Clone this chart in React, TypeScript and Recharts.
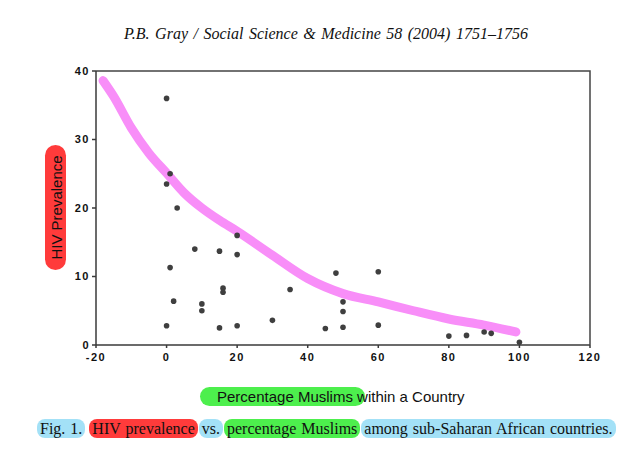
import React from 'react';
import {
  ComposedChart,
  Scatter,
  Line,
  XAxis,
  YAxis,
  Label,
} from 'recharts';

// % Muslims per country (x) and HIV prevalence (y)
const muslimPct = [
  0, 1, 0, 3, 20, 8, 15, 20, 1, 48, 16, 16, 35, 2, 10, 10, 30, 0, 15, 20, 45,
  60, 50, 50, 50, 60, 80, 85, 90, 92, 100,
];
const hivPct = [
  36, 25, 23.5, 20, 16, 14, 13.7, 13.2, 11.3, 10.5, 8.3, 7.7, 8.1, 6.4, 6, 5,
  3.6, 2.8, 2.5, 2.8, 2.4, 10.7, 6.3, 4.9, 2.6, 2.9, 1.3, 1.4, 1.9, 1.7, 0.4,
];

// hand-drawn pink trend curve
const trendX = [-18, -15, -10, -5, 0, 5, 10, 15, 20, 30, 40, 50, 60, 70, 80, 90, 99];
const trendY = [38.6, 36.3, 31.7, 28, 25.1, 22.2, 20, 18.2, 16.6, 13.1, 9.7, 7.5, 6.3, 5, 3.8, 2.9, 1.9];

const xTicks = [-20, 0, 20, 40, 60, 80, 100, 120];
const yTicks = [0, 10, 20, 30, 40];

const points = muslimPct.map((x, i) => ({ x, y: hivPct[i] }));
const trend = trendX.map((x, i) => ({ x, y: trendY[i] }));

const W = 638;
const H = 455;
const margin = { top: 71, right: 48, left: 56, bottom: 80 };
const Y_AXIS_W = 40;
const X_AXIS_H = 30;

const sans = '"Liberation Sans", Arial, Helvetica, sans-serif';
const serif = '"Liberation Serif", "Times New Roman", serif';
const axisColor = '#3a3a3a';
const tickStyle = {
  fill: '#111',
  fontFamily: sans,
  fontSize: 11,
  fontWeight: 600,
  letterSpacing: 1.5,
};

const RED = '#ff3b3b';
const GREEN = '#4def4d';
const BLUE = '#a3e1f7';

// x title + top/right edges of the plot frame
const XTitle = () => {
  const left = margin.left + Y_AXIS_W;
  const right = W - margin.right;
  const top = margin.top;
  const bottom = H - margin.bottom - X_AXIS_H;
  return (
    <g>
      <polyline
        points={`${left},${top} ${right},${top} ${right},${bottom}`}
        fill="none"
        stroke="#444"
        strokeWidth={1.5}
      />
      <rect x={200} y={387} width={165} height={19} rx={9.5} fill={GREEN} />
      <text x={217} y={402} fontFamily={sans} fontSize={15} fill="#111">
        Percentage Muslims within a Country
      </text>
    </g>
  );
};

const YTitle = () => (
  <g>
    <rect x={45} y={145} width={21} height={125} rx={10.5} fill={RED} />
    <text
      x={56}
      y={207.5}
      transform="rotate(-90 56 207.5)"
      textAnchor="middle"
      dominantBaseline="central"
      fontFamily={sans}
      fontSize={15}
      fill="#111"
    >
      HIV Prevalence
    </text>
  </g>
);

const Dot = (props: any) => (
  <circle cx={props.cx} cy={props.cy} r={2.8} fill="#3f3f3f" />
);

const chip = (bg: string) => ({
  background: bg,
  borderRadius: 8,
  padding: '0 3px',
  lineHeight: '19px',
  height: 19,
});

export default function App() {
  return (
    <div
      style={{
        position: 'absolute',
        left: 0,
        top: 0,
        width: W,
        height: H,
        background: '#fff',
      }}
    >
      <div
        style={{
          position: 'absolute',
          left: 0,
          top: 25,
          width: 652,
          textAlign: 'center',
          fontFamily: serif,
          fontStyle: 'italic',
          fontSize: 16,
          wordSpacing: 1.5,
          color: '#111',
        }}
      >
        P.B. Gray / Social Science &amp; Medicine 58 (2004) 1751–1756
      </div>

      <ComposedChart width={W} height={H} data={trend} margin={margin}>
        <XAxis
          dataKey="x"
          type="number"
          domain={[-20, 120]}
          ticks={xTicks}
          allowDataOverflow
          height={X_AXIS_H}
          stroke={axisColor}
          strokeWidth={1.5}
          tickSize={3}
          tickMargin={5}
          tick={tickStyle}
          tickLine={{ stroke: axisColor }}
        >
          <Label content={() => <XTitle />} />
        </XAxis>
        <YAxis
          dataKey="y"
          type="number"
          domain={[0, 40]}
          ticks={yTicks}
          allowDataOverflow
          width={Y_AXIS_W}
          stroke={axisColor}
          strokeWidth={1.5}
          tickSize={4}
          tick={tickStyle}
          tickLine={{ stroke: axisColor }}
        >
          <Label content={() => <YTitle />} />
        </YAxis>
        <Line
          dataKey="y"
          type="monotone"
          stroke="#f88ef8"
          strokeWidth={9}
          strokeLinecap="round"
          dot={false}
          activeDot={false}
          isAnimationActive={false}
        />
        <Scatter
          data={points}
          dataKey="y"
          shape={Dot}
          isAnimationActive={false}
        />
      </ComposedChart>

      <div
        style={{
          position: 'absolute',
          left: 37,
          top: 419,
          display: 'flex',
          gap: 1,
          whiteSpace: 'pre',
          fontFamily: serif,
          fontSize: 16,
          wordSpacing: 1,
          color: '#111',
        }}
      >
        <span style={chip(BLUE)}>Fig. 1.</span>
        <span style={{ width: 2 }} />
        <span style={chip(RED)}>HIV prevalence</span>
        <span style={chip(BLUE)}>vs.</span>
        <span style={chip(GREEN)}>percentage Muslims</span>
        <span style={chip(BLUE)}>among sub-Saharan African countries.</span>
      </div>
    </div>
  );
}
